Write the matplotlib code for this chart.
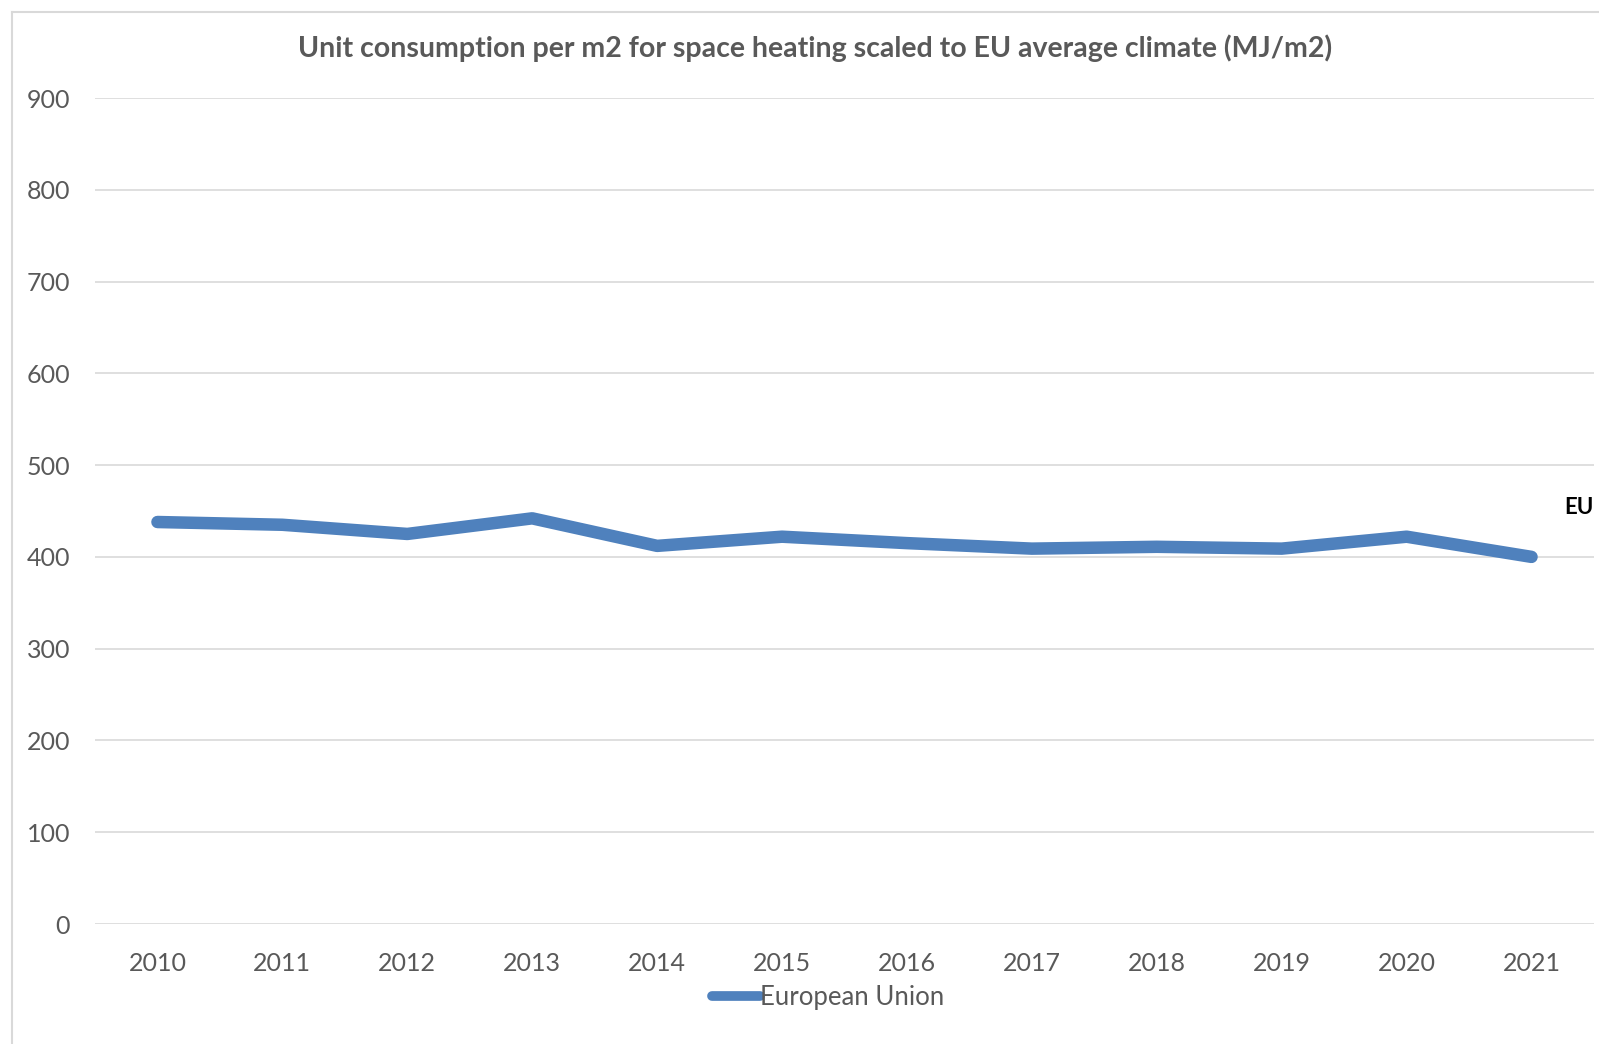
import matplotlib.pyplot as plt
from matplotlib.lines import Line2D

YEARS = ["2010", "2011", "2012", "2013", "2014", "2015",
         "2016", "2017", "2018", "2019", "2020", "2021"]
EU_VALUES = [438, 435, 425, 442, 412, 422, 415, 409, 411, 409, 422, 400]
Y_TICKS = [0, 100, 200, 300, 400, 500, 600, 700, 800, 900]

TITLE = "Unit consumption per m2 for space heating scaled to EU average climate (MJ/m2)"
SERIES_NAME = "European Union"

LINE_COLOR = "#4F81BD"
TEXT_COLOR = "#595959"
GRID_COLOR = "#D9D9D9"

W, H = 1599, 1044


def main():
    plt.rcParams["font.family"] = ["Lato", "DejaVu Sans"]
    fig = plt.figure(figsize=(W / 100, H / 100), dpi=100)
    ax = fig.add_axes([95 / W, 1 - 924 / H, 1499 / W, (924 - 98) / H])

    x = list(range(len(YEARS)))
    ax.plot(x, EU_VALUES, color=LINE_COLOR, linewidth=9,
            solid_capstyle="round", solid_joinstyle="round", label=SERIES_NAME)

    ax.set_xlim(-0.5, len(YEARS) - 0.5)
    ax.set_ylim(0, 900)
    ax.set_yticks(Y_TICKS)
    ax.set_xticks(x)
    ax.set_xticklabels(YEARS)
    ax.tick_params(axis="both", length=0, labelsize=18, labelcolor=TEXT_COLOR)
    ax.tick_params(axis="y", pad=18)
    ax.tick_params(axis="x", pad=20)
    ax.grid(axis="y", color=GRID_COLOR, linewidth=1.2)
    ax.set_axisbelow(True)
    for s in ax.spines.values():
        s.set_visible(False)

    fig.text(815 / W, 1 - 48 / H, TITLE, ha="center", va="center",
             fontsize=20.5, fontweight="bold", color=TEXT_COLOR)
    fig.text(1594 / W, 1 - 507 / H, "EU", ha="right", va="center",
             fontsize=16, fontweight="bold", color="black")

    leg = fig.legend(loc="center", bbox_to_anchor=(828 / W, 1 - 997 / H),
                     frameon=False, fontsize=18.5, handlelength=1.85,
                     handletextpad=0.0, labelcolor=TEXT_COLOR)
    for h in leg.get_lines():
        h.set_linewidth(7)
        h.set_solid_capstyle("round")

    # chart area border (only left and top visible in the crop)
    fig.add_artist(Line2D([12 / W, 12 / W], [0, 1 - 12 / H],
                          color=GRID_COLOR, linewidth=1.5))
    fig.add_artist(Line2D([12 / W, 1], [1 - 12 / H, 1 - 12 / H],
                          color=GRID_COLOR, linewidth=1.5))

    fig.savefig("out.png", dpi=100)
    plt.close(fig)


if __name__ == "__main__":
    main()
